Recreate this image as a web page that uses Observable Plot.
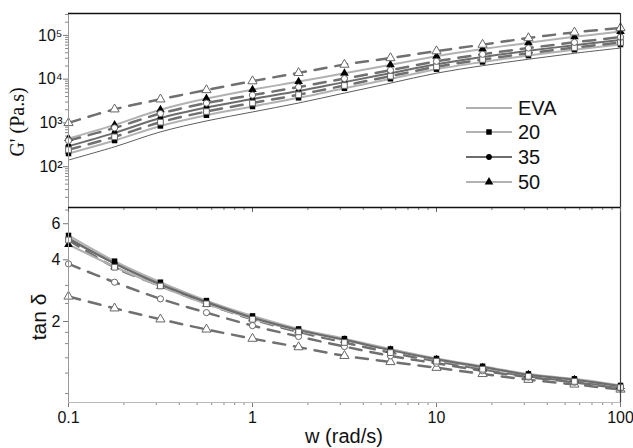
<!DOCTYPE html>
<html><head><meta charset="utf-8">
<script src="https://cdn.jsdelivr.net/npm/d3@7"></script>
<script src="https://cdn.jsdelivr.net/npm/@observablehq/plot@0.6"></script>
<style>
body{margin:0;background:#fff;}
#chart{position:relative;width:633px;height:448px;font-family:"Liberation Sans",Arial,sans-serif;}
#chart svg{position:absolute;left:0;background:transparent !important;display:block;}
</style></head><body><div id="chart"></div>
<script>
// angular frequency (rad/s)
const w = [0.1, 0.178, 0.316, 0.562, 1, 1.78, 3.16, 5.62, 10, 17.8, 31.6, 56.2, 100];

// G' (Pa.s)
const gEVA  = [142, 285, 624, 1110, 1780, 2850, 4810, 8110, 13700, 20300, 28500, 39000, 51400];
const g20   = [200, 396, 853, 1500, 2370, 3740, 6180, 10200, 16900, 24700, 34600, 47100, 61800];
const g35   = [295, 593, 1290, 2250, 3510, 5350, 8550, 13700, 21900, 32000, 44300, 59800, 78200];
const g50   = [440, 902, 2000, 3600, 5770, 8790, 13700, 21300, 33300, 48600, 67600, 92500, 122000];
const g20o  = [243, 481, 1040, 1820, 2850, 4410, 7160, 11700, 19200, 28100, 39000, 52600, 68500];
const g35o  = [395, 771, 1640, 2840, 4330, 6590, 10300, 16000, 25600, 37000, 51300, 69300, 91400];
const g50o  = [1000, 2050, 3460, 5650, 9000, 13900, 21500, 30400, 43600, 61500, 87000, 117000, 147000];

// tan delta
const tEVA  = [5.02, 3.81, 3.02, 2.47, 2.08, 1.81, 1.63, 1.45, 1.31, 1.20, 1.10, 1.04, 0.967];
const t20   = [5.26, 3.94, 3.11, 2.53, 2.13, 1.84, 1.65, 1.47, 1.32, 1.21, 1.11, 1.05, 0.975];
const t35   = [5.11, 3.85, 3.04, 2.49, 2.09, 1.82, 1.63, 1.45, 1.31, 1.20, 1.10, 1.04, 0.969];
const t50   = [4.75, 3.70, 2.97, 2.43, 2.06, 1.80, 1.62, 1.45, 1.30, 1.19, 1.10, 1.04, 0.964];
const t20o  = [5.00, 3.68, 2.98, 2.44, 2.05, 1.78, 1.58, 1.41, 1.28, 1.17, 1.08, 1.02, 0.953];
const t35o  = [3.82, 3.11, 2.58, 2.21, 1.91, 1.69, 1.51, 1.36, 1.25, 1.15, 1.07, 1.01, 0.943];
const t50o  = [2.65, 2.32, 2.05, 1.83, 1.65, 1.50, 1.36, 1.27, 1.19, 1.11, 1.04, 0.986, 0.932];

// ticks
const xTicks = [0.1, 1, 10, 100];
const xTickLabels = ["0.1", "1", "10", "100"];
const gTicks = [1e2, 1e3, 1e4, 1e5];
const gTickLabels = ["10\u00B2", "10\u00B3", "10\u2074", "10\u2075"];
const tTicks = [2, 4, 6];
const tTickLabels = ["2", "4", "6"];
const tMinor = [0.89, 1.12, 1.33, 1.56, 1.77, 2.45, 3, 5, 7];
const legendNames = ["EVA", "20", "35", "50"];

const xDomain = [0.1, 100];
const gDomain = [11.7, 3.16e5];
const tDomain = [0.805, 7.2];

// styles (kept apart from the data)
const styles = {
  EVA:  {stroke:"#5e5e5e", sw:1},
  s20:  {stroke:"#b2b2b2", sw:2, symbol:"square", fill:"#000", r:3.1},
  s35:  {stroke:"#6c6c6c", sw:2, symbol:"circle", fill:"#000", r:2.9},
  s50:  {stroke:"#b2b2b2", sw:2, symbol:"triangle", fill:"#000", r:3.2},
  o20:  {stroke:"#707070", sw:2.5, dash:"12,9", symbol:"square", fill:"#fff", r:3.2},
  o35:  {stroke:"#707070", sw:2.5, dash:"12,9", symbol:"circle", fill:"#fff", r:3.1},
  o50:  {stroke:"#707070", sw:2.5, dash:"12,9", symbol:"triangle", fill:"#fff", r:3.4}
};

const rows = vals => w.map((x, i) => ({w: x, v: vals[i]}));
const topSeries = [["EVA", gEVA], ["s20", g20], ["s35", g35], ["s50", g50], ["o20", g20o], ["o35", g35o], ["o50", g50o]];
const botSeries = [["o50", t50o], ["o35", t35o], ["o20", t20o], ["s50", t50], ["EVA", tEVA], ["s20", t20], ["s35", t35]];

function seriesMarks(list) {
  const lines = [], filled = [], open = [];
  for (const [key, vals] of list) {
    const s = styles[key], d = rows(vals);
    lines.push(Plot.line(d, {x:"w", y:"v", stroke:s.stroke, strokeWidth:s.sw, strokeDasharray:s.dash, curve:"catmull-rom"}));
    if (s.symbol) {
      const m = Plot.dot(d, {x:"w", y:"v", symbol:s.symbol, r:s.r, fill:s.fill,
        stroke: s.fill === "#fff" ? "#666" : "none", strokeWidth: 1});
      (s.fill === "#fff" ? open : filled).push(m);
    }
  }
  return [...lines, ...filled, ...open];
}

function minorLog(lo, hi) {
  const out = [];
  for (let e = Math.floor(Math.log10(lo)); e <= Math.ceil(Math.log10(hi)); e++)
    for (let k = 2; k <= 9; k++) { const v = k * Math.pow(10, e); if (v > lo && v < hi) out.push(v); }
  return out;
}
const xMinor = minorLog(xDomain[0], xDomain[1]);
const gMinor = minorLog(gDomain[0], gDomain[1]);
const xLab = new Map(xTicks.map((d, i) => [d, xTickLabels[i]]));
const gLab = new Map(gTicks.map((d, i) => [d, gTickLabels[i]]));
const tLab = new Map(tTicks.map((d, i) => [d, tTickLabels[i]]));
const blank = () => "";
const font = {fontFamily:"'Liberation Sans', Arial, sans-serif", color:"#111", background:"transparent"};

const topPlot = Plot.plot({
  width:633, height:215, marginLeft:68, marginRight:13, marginTop:13, marginBottom:8,
  style:font,
  x:{type:"log", domain:xDomain},
  y:{type:"log", domain:gDomain},
  marks:[
    Plot.axisY({ticks:gTicks, tickSize:5, tickPadding:1, tickFormat:d => gLab.get(d), fontSize:16, label:null, stroke:"#777"}),
    Plot.axisY({ticks:gMinor, tickSize:3, tickFormat:blank, label:null, stroke:"#888"}),
    Plot.axisX({ticks:xTicks, tickSize:5, tickFormat:blank, label:null, stroke:"#666"}),
    Plot.axisX({ticks:xMinor, tickSize:3, tickFormat:blank, label:null, stroke:"#777"}),
    ...seriesMarks(topSeries),
    Plot.ruleX([xDomain[0]], {stroke:"#999", strokeWidth:1}),
    Plot.ruleX([xDomain[1]], {stroke:"#333", strokeWidth:1.2}),
    Plot.ruleY([gDomain[1]], {stroke:"#111", strokeWidth:1.5}),
    Plot.ruleY([gDomain[0]], {stroke:"#111", strokeWidth:1.5})
  ]
});

const botPlot = Plot.plot({
  width:633, height:248, marginLeft:68, marginRight:13, marginTop:7, marginBottom:46,
  style:font,
  x:{type:"log", domain:xDomain},
  y:{type:"log", domain:tDomain},
  marks:[
    Plot.axisY({ticks:tTicks, tickSize:5, tickPadding:3, tickFormat:d => tLab.get(d), fontSize:16, label:null, stroke:"#777"}),
    Plot.axisY({ticks:tMinor, tickSize:3, tickFormat:blank, label:null, stroke:"#888"}),
    Plot.axisX({ticks:xTicks, tickSize:5, tickPadding:4, tickFormat:d => xLab.get(d), fontSize:16, label:null, stroke:"#777"}),
    Plot.axisX({ticks:xMinor, tickSize:3, tickFormat:blank, label:null, stroke:"#888"}),
    ...seriesMarks(botSeries),
    Plot.ruleX([xDomain[0]], {stroke:"#999", strokeWidth:1}),
    Plot.ruleX([xDomain[1]], {stroke:"#444", strokeWidth:1.2}),
    Plot.ruleY([tDomain[0]], {stroke:"#bbb", strokeWidth:1.2})
  ]
});

const chart = document.getElementById("chart");
topPlot.style.top = "0px";
botPlot.style.top = "200px";
chart.appendChild(botPlot);
chart.appendChild(topPlot);

// overlay: axis titles and legend
const ov = d3.select(chart).append("svg")
  .attr("width", 633).attr("height", 448).style("top", "0px").style("pointer-events", "none");
ov.append("text").attr("transform", "translate(24,122) rotate(-90)").attr("text-anchor", "middle")
  .attr("font-family", "'Liberation Serif','Times New Roman',serif").attr("font-size", 20).attr("fill", "#111")
  .text("G' (Pa.s)");
ov.append("text").attr("transform", "translate(46,317) rotate(-90)").attr("text-anchor", "middle")
  .attr("font-family", "'Liberation Sans',Arial,sans-serif").attr("font-size", 21).attr("fill", "#111")
  .text("tan \u03B4");
ov.append("text").attr("x", 344).attr("y", 443).attr("text-anchor", "middle")
  .attr("font-family", "'Liberation Sans',Arial,sans-serif").attr("font-size", 20).attr("fill", "#111")
  .text("w (rad/s)");

const legKeys = ["EVA", "s20", "s35", "s50"];
const legRowY = [108, 132, 157, 182];
const sym = {square: d3.symbolSquare, circle: d3.symbolCircle, triangle: d3.symbolTriangle};
legendNames.forEach((name, i) => {
  const s = styles[legKeys[i]], y = legRowY[i];
  const g = ov.append("g");
  g.append("line").attr("x1", 466).attr("x2", 512).attr("y1", y).attr("y2", y)
    .attr("stroke", s.stroke).attr("stroke-width", s.sw);
  if (s.symbol) g.append("path").attr("transform", `translate(489,${y})`)
    .attr("d", d3.symbol(sym[s.symbol], Math.PI * s.r * s.r)()).attr("fill", "#000");
  g.append("text").attr("x", 518).attr("y", y + 7).attr("font-size", 20)
    .attr("font-family", "'Liberation Sans',Arial,sans-serif").attr("fill", "#111").text(name);
});
</script></body></html>
